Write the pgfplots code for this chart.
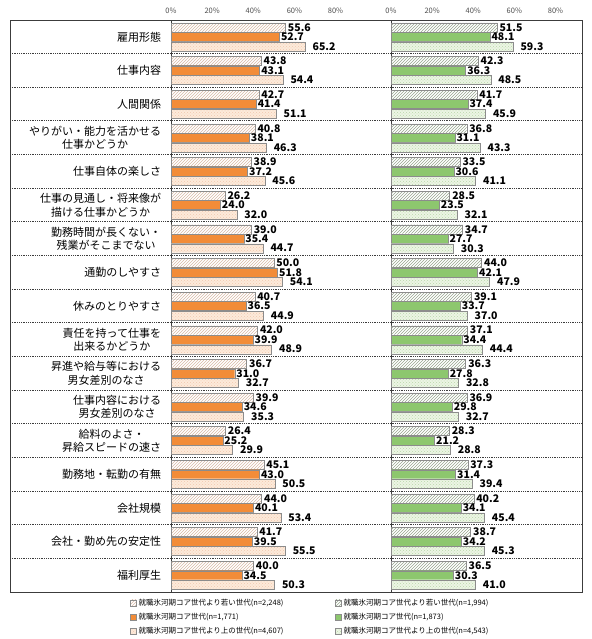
\documentclass[border=0pt]{standalone}
\usepackage{pgfplots}
\pgfplotsset{compat=1.18}
\usepackage{pgfplotstable}
\usetikzlibrary{patterns}
\usepackage{fontspec}
\setmainfont{Noto Sans CJK JP}

\definecolor{orSolid}{RGB}{242,140,56}
\definecolor{orHatch}{RGB}{215,185,165}
\definecolor{orLight}{RGB}{253,234,218}
\definecolor{orDots}{RGB}{240,200,175}
\definecolor{grSolid}{RGB}{141,199,110}
\definecolor{grHatch}{RGB}{150,165,140}
\definecolor{grLight}{RGB}{236,245,228}
\definecolor{grDots}{RGB}{185,215,170}
\definecolor{barEdge}{RGB}{140,140,140}
\definecolor{frameC}{RGB}{60,60,60}

\pgfplotstableread{
idx ly lc lo ry rc ro
0 55.6 52.7 65.2 51.5 48.1 59.3
1 43.8 43.1 54.4 42.3 36.3 48.5
2 42.7 41.4 51.1 41.7 37.4 45.9
3 40.8 38.1 46.3 36.8 31.1 43.3
4 38.9 37.2 45.6 33.5 30.6 41.1
5 26.2 24.0 32.0 28.5 23.5 32.1
6 39.0 35.4 44.7 34.7 27.7 30.3
7 50.0 51.8 54.1 44.0 42.1 47.9
8 40.7 36.5 44.9 39.1 33.7 37.0
9 42.0 39.9 48.9 37.1 34.4 44.4
10 36.7 31.0 32.7 36.3 27.8 32.8
11 39.9 34.6 35.3 36.9 29.8 32.7
12 26.4 25.2 29.9 28.3 21.2 28.8
13 45.1 43.0 50.5 37.3 31.4 39.4
14 44.0 40.1 53.4 40.2 34.1 45.4
15 41.7 39.5 55.5 38.7 34.2 45.3
16 40.0 34.5 50.3 36.5 30.3 41.0
}\data

\pgfplotsset{
  common/.style={
    xbar, scale only axis, height=572pt,
    y dir=reverse, ymin=-0.5, ymax=16.5,
    xmin=0,
    bar width=9pt,
    axis line style={frameC, line width=0.8pt},
    xtick={0,20,40,60,80},
    xticklabels={0\%,20\%,40\%,60\%,80\%},
    xticklabel pos=upper,
    xtick style={draw=none},
    xticklabel style={font=\fontsize{7.5}{8}\selectfont, text=black!70, yshift=3pt},
    /pgf/number format/assume math mode=true,
    nodes near coords={\pgfmathprintnumber[fixed,fixed zerofill,precision=1,assume math mode=true]{\pgfplotspointmeta}},
    nodes near coords style={font=\fontsize{10.5}{10}\selectfont\bfseries, anchor=west, inner sep=0.5pt, text=black},
    legend cell align=left,
    legend style={draw=none, fill=none, font=\fontsize{7.5}{9}\selectfont, row sep=2.5pt,
      inner sep=0pt},
    legend image code/.code={\draw[#1, draw=barEdge, line width=0.3pt] (0pt,-3pt) rectangle (6pt,3pt);},
  },
}

\begin{document}
\begin{tikzpicture}
\path (0pt,0pt) rectangle (591pt,-639pt);

\begin{axis}[common,
  at={(171pt,-20pt)}, anchor=north west,
  width=220pt, xmax=107,
  ytick={0,...,16},
  ytick style={draw=none},
  yticklabel style={font=\fontsize{11}{13.5}\selectfont, align=center, xshift=-2pt},
  yticklabels={雇用形態, 仕事内容, 人間関係, {やりがい・能力を活かせる\\仕事かどうか}, 仕事自体の楽しさ,
    {仕事の見通し・将来像が\\描ける仕事かどうか}, {勤務時間が長くない・\\残業がそこまでない}, 通勤のしやすさ,
    休みのとりやすさ, {責任を持って仕事を\\出来るかどうか}, {昇進や給与等における\\男女差別のなさ},
    {仕事内容における\\男女差別のなさ}, {給料のよさ・\\昇給スピードの速さ}, 勤務地・転勤の有無,
    会社規模, 会社・勤め先の安定性, 福利厚生},
  legend style={at={(-0.186,-0.008)}, anchor=north west},
]
\addplot+[bar shift=9.5pt, draw=barEdge, line width=0.3pt, fill=white, pattern=north east lines, pattern color=orHatch,
  nodes near coords style={xshift=2pt}] table[x=ly, y=idx] {\data};
\addlegendentry{就職氷河期コア世代より若い世代(n=2,248)}
\addplot+[bar shift=0pt, draw=barEdge, line width=0.3pt, fill=orSolid,
  nodes near coords style={xshift=1pt}] table[x=lc, y=idx] {\data};
\addlegendentry{就職氷河期コア世代(n=1,771)}
\addplot+[bar shift=-9.5pt, draw=barEdge, line width=0.3pt, fill=orLight, postaction={pattern=crosshatch dots, pattern color=orDots},
  nodes near coords style={xshift=7pt}] table[x=lo, y=idx] {\data};
\addlegendentry{就職氷河期コア世代より上の世代(n=4,607)}
\end{axis}

\begin{axis}[common,
  at={(391pt,-20pt)}, anchor=north west,
  width=191pt, xmax=92.9,
  ytick=\empty,
  legend style={at={(-0.293,-0.008)}, anchor=north west},
]
\addplot+[bar shift=9.5pt, draw=barEdge, line width=0.3pt, fill=white, pattern=north east lines, pattern color=grHatch,
  nodes near coords style={xshift=2pt}] table[x=ry, y=idx] {\data};
\addlegendentry{就職氷河期コア世代より若い世代(n=1,994)}
\addplot+[bar shift=0pt, draw=barEdge, line width=0.3pt, fill=grSolid,
  nodes near coords style={xshift=1pt}] table[x=rc, y=idx] {\data};
\addlegendentry{就職氷河期コア世代(n=1,873)}
\addplot+[bar shift=-9.5pt, draw=barEdge, line width=0.3pt, fill=grLight, postaction={pattern=crosshatch dots, pattern color=grDots},
  nodes near coords style={xshift=7pt}] table[x=ro, y=idx] {\data};
\addlegendentry{就職氷河期コア世代より上の世代(n=4,543)}
\end{axis}

\foreach \k in {1,...,16} {
  \pgfmathsetmacro\yy{-20-33.647*\k}
  \draw[frameC, line width=0.9pt, dash pattern=on 0.9pt off 0.9pt] (10pt,\yy pt) -- (582pt,\yy pt);
}
\draw[frameC, line width=0.8pt] (10pt,-20pt) rectangle (582pt,-592pt);
\end{tikzpicture}
\end{document}
